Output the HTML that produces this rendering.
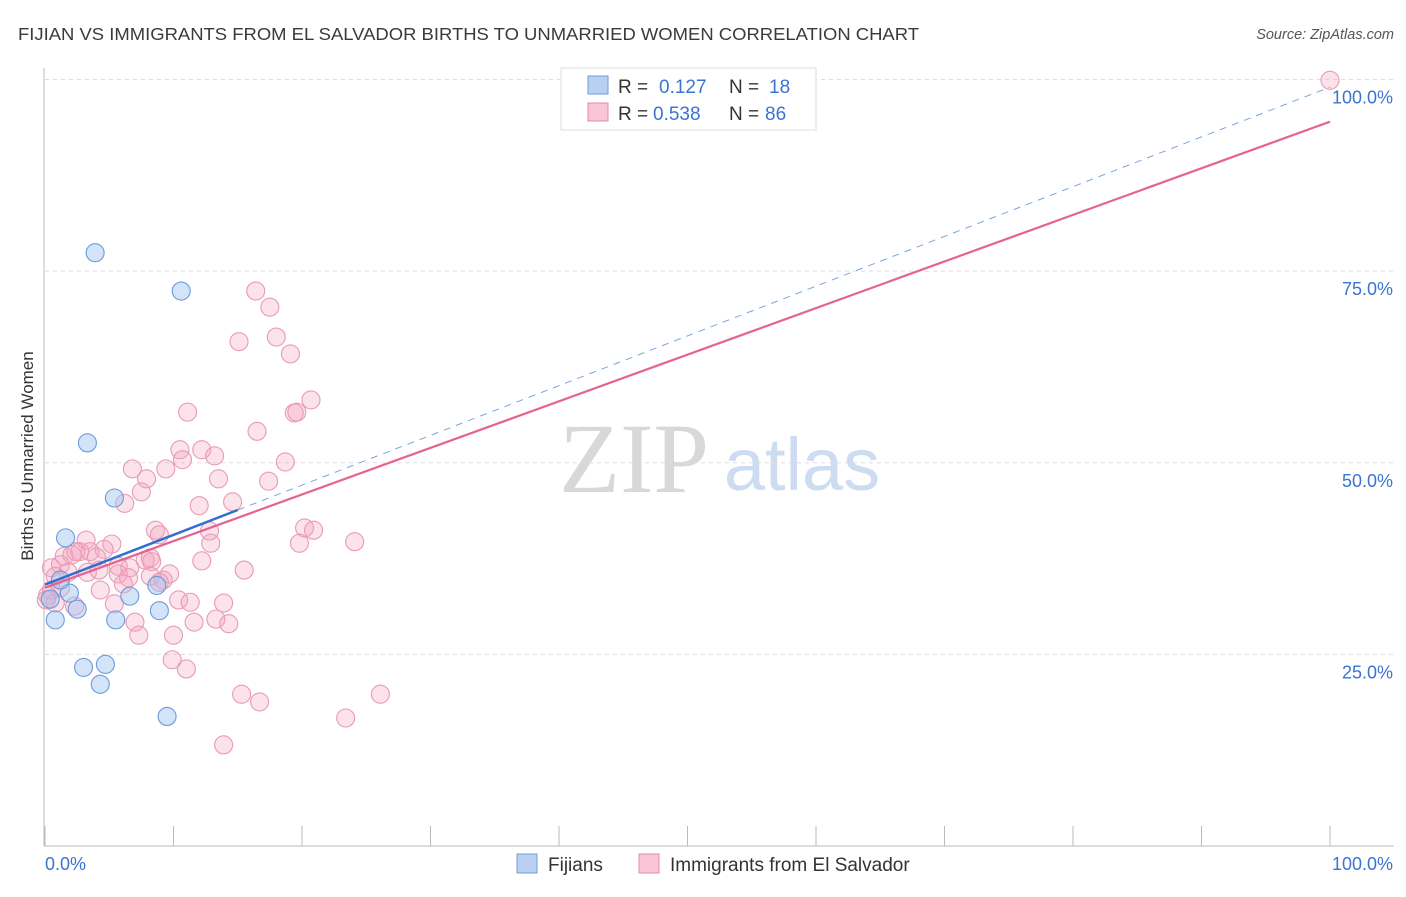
<!DOCTYPE html>
<html><head><meta charset="utf-8"><style>
body{margin:0;background:#fff;font-family:"Liberation Sans",sans-serif}
</style></head><body>
<svg id="c" width="1406" height="892" xmlns="http://www.w3.org/2000/svg" font-family="Liberation Sans, sans-serif">
<text x="18" y="40" font-size="17.5" fill="#3a3a3a" textLength="901" lengthAdjust="spacingAndGlyphs">FIJIAN VS IMMIGRANTS FROM EL SALVADOR BIRTHS TO UNMARRIED WOMEN CORRELATION CHART</text>
<text x="1394" y="39" font-size="14.5" fill="#555" font-style="italic" text-anchor="end">Source: ZipAtlas.com</text>
<g>
<text x="634" y="492" font-size="100" fill="#d8d8d8" style="font-family:'Liberation Serif',serif" text-anchor="middle">ZIP</text>
<text x="802" y="490" font-size="74" fill="#cddcf0" text-anchor="middle">atlas</text></g>
<g id="grid"></g><g id="axes"></g><g id="pts"></g><g id="lines"></g>
<text x="33" y="456" font-size="17" fill="#333" transform="rotate(-90 33 456)" text-anchor="middle">Births to Unmarried Women</text>
<g>
<rect x="561" y="68" width="255" height="62" fill="#fff" stroke="#ddd"/>
<rect x="588" y="76" width="20" height="18" fill="#b9d0f2" stroke="#6d9fdc"/>
<rect x="588" y="103" width="20" height="18" fill="#f9c6d5" stroke="#e58aa8"/>
<text y="93" font-size="19" fill="#333"><tspan x="618">R =</tspan><tspan x="659" fill="#3b74d0">0.127</tspan><tspan x="729">N =</tspan><tspan x="769" fill="#3b74d0">18</tspan></text>
<text y="120" font-size="19" fill="#333"><tspan x="618">R =</tspan><tspan x="653" fill="#3b74d0">0.538</tspan><tspan x="729">N =</tspan><tspan x="765" fill="#3b74d0">86</tspan></text>
</g>
<g>
<rect x="517" y="854" width="20" height="19" fill="#b9d0f2" stroke="#6d9fdc"/>
<text x="548" y="871" font-size="19" fill="#333">Fijians</text>
<rect x="639" y="854" width="20" height="19" fill="#f9c6d5" stroke="#e58aa8"/>
<text x="670" y="871" font-size="19" fill="#333">Immigrants from El Salvador</text></g>
</svg>
<script>
const blueX=[3.9,10.6,3.3,5.4,1.6,1.9,1.2,2.5,0.8,6.6,5.5,8.7,8.9,3.0,4.7,4.3,9.5,0.4];
const blueY=[77.4,72.4,52.6,45.4,40.2,33.0,34.7,30.9,29.5,32.6,29.5,34.0,30.7,23.3,23.7,21.1,16.9,32.2];
const pinkX=[100,16.4,17.5,15.1,18.0,19.1,20.7,11.1,19.4,19.6,16.5,10.5,12.2,13.2,10.7,18.7,6.8,9.4,7.9,13.5,17.4,7.5,14.6,6.2,12.0,8.6,8.9,12.9,19.8,20.2,20.9,24.1,3.2,5.2,2.7,3.5,4.6,1.5,2.1,2.4,4.0,1.2,0.5,1.8,0.8,5.7,6.6,5.7,6.5,3.3,4.2,7.8,8.2,8.3,15.5,12.2,9.7,9.2,6.1,4.3,1.2,0.2,0.8,5.4,2.3,10.4,11.3,13.9,7.0,11.6,13.3,14.3,7.3,10.0,11.0,9.9,15.3,16.7,26.1,23.4,13.9,0.5,0.1,8.2,12.8,8.9];
const pinkY=[99.9,72.4,70.3,65.8,66.4,64.2,58.2,56.6,56.5,56.6,54.1,51.7,51.7,50.9,50.4,50.1,49.2,49.2,47.9,47.9,47.6,46.2,44.9,44.7,44.4,41.2,40.6,39.5,39.5,41.5,41.2,39.7,39.9,39.4,38.4,38.4,38.7,37.8,38.0,38.4,37.7,36.7,36.3,35.7,35.2,36.5,36.3,35.5,35.0,35.7,36.0,37.3,37.6,37.1,36.0,37.2,35.5,34.7,34.2,33.4,33.7,32.7,31.7,31.6,31.3,32.1,31.8,31.7,29.2,29.2,29.6,29.0,27.5,27.5,23.1,24.3,19.8,18.8,19.8,16.7,13.2,33.4,32.1,35.2,41.1,34.4];
const blueTrend=[34.1,99.0];
const pinkTrend=[33.7,94.5];
const yTicks=[25,50,75,100];
const xTickVals=[0,10,20,30,40,50,60,70,80,90,100];
const NS="http://www.w3.org/2000/svg";
const sx=v=>45+v*12.85, sy=v=>846-v*7.665;
function mk(p,t,a){const e=document.createElementNS(NS,t);for(const k in a)e.setAttribute(k,a[k]);p.appendChild(e);return e;}
const grid=document.getElementById('grid'),axes=document.getElementById('axes'),pts=document.getElementById('pts'),lines=document.getElementById('lines');
yTicks.forEach(v=>{
 const l=mk(grid,'line',{x1:45,x2:1394,y1:sy(v),y2:sy(v),stroke:'#ddd','stroke-dasharray':'4,4'});
 
 
 const t=mk(grid,'text',{x:1393,y:sy(v)+24,'font-size':18,fill:'#3b74d0','text-anchor':'end'});t.textContent=v.toFixed(1)+'%';
 
 
});
const ax=mk(axes,'line',{x1:44,x2:44,y1:68,y2:846,stroke:'#bbb'});


const bx=mk(axes,'line',{x1:44,x2:1394,y1:846,y2:846,stroke:'#bbb'});


xTickVals.forEach(v=>{const t=mk(axes,'line',{x1:sx(v),x2:sx(v),y1:826,y2:846,stroke:'#bbb'});
 
 });
[[0,'0.0%','start',45],[100,'100.0%','end',1393]].forEach(d=>{const t=mk(axes,'text',{x:d[3],y:870,'font-size':18,fill:'#3b74d0','text-anchor':d[2]});t.textContent=d[1];
 
 });
pinkX.forEach((x,i)=>{const c=mk(pts,'circle',{cx:sx(x),cy:sy(pinkY[i]),r:9,fill:'rgba(244,165,192,0.32)',stroke:'#e99ab4','stroke-width':1.1});
 
 });
blueX.forEach((x,i)=>{const c=mk(pts,'circle',{cx:sx(x),cy:sy(blueY[i]),r:9,fill:'rgba(160,195,240,0.45)',stroke:'#6a9bdb','stroke-width':1.1});
 
 });
const by=x=>blueTrend[0]+(blueTrend[1]-blueTrend[0])*x/100;
const l1=mk(lines,'line',{x1:sx(15),y1:sy(by(15)),x2:sx(100),y2:sy(by(100)),stroke:'#7aa5dc','stroke-width':1,'stroke-dasharray':'7,6'});


const l2=mk(lines,'line',{x1:sx(0),y1:sy(pinkTrend[0]),x2:sx(100),y2:sy(pinkTrend[1]),stroke:'#e5648f','stroke-width':2.2});


const l3=mk(lines,'line',{x1:sx(0),y1:sy(by(0)),x2:sx(15),y2:sy(by(15)),stroke:'#2f6fd0','stroke-width':2.5});


</script>
</body></html>
